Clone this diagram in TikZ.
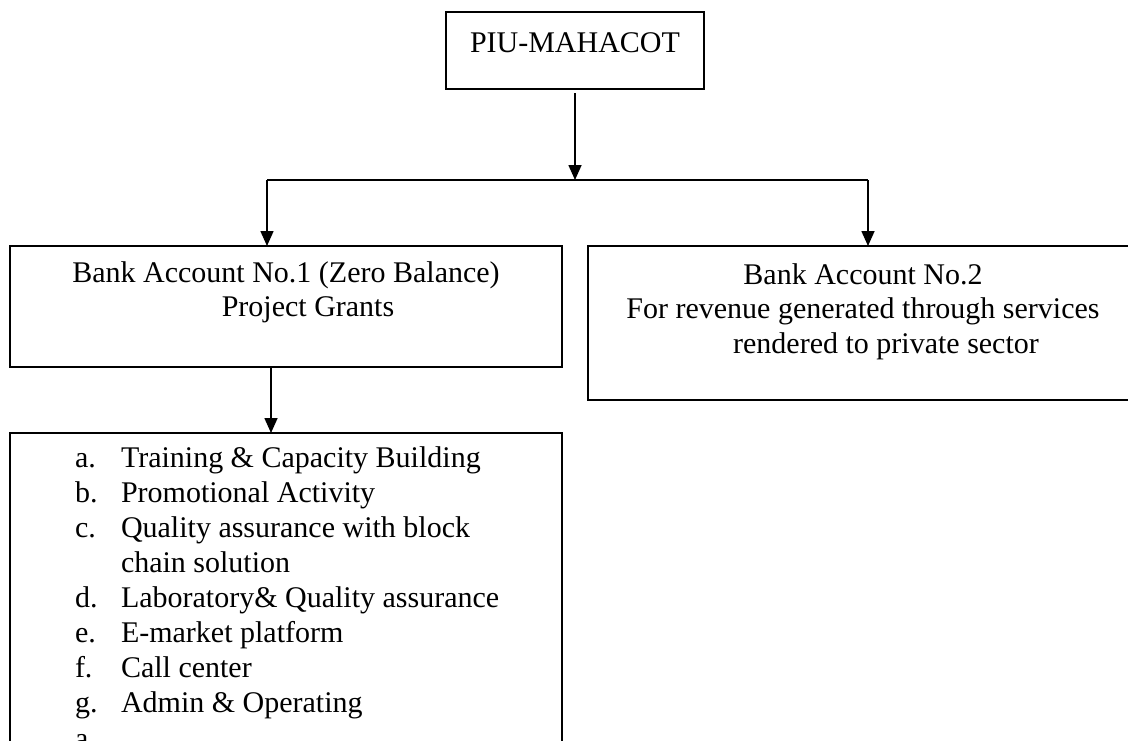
\documentclass[tikz,border=0pt]{standalone}
\usepackage{fontspec}
\setmainfont{Liberation Serif}
\usetikzlibrary{arrows.meta}
\begin{document}
\begin{tikzpicture}[x=1pt,y=-1pt,
  box/.style={draw, line width=1.6pt, inner sep=0pt, outer sep=0pt},
  txt/.style={font=\fontsize{30}{34.5}\selectfont, inner sep=0pt, outer sep=0pt, anchor=base},
  ltxt/.style={txt, anchor=base west},
  conn/.style={line width=1.6pt},
  arr/.style={conn, -{Triangle[width=13pt,length=15pt]}}]
\useasboundingbox (0,0) rectangle (1128,740);
\clip (0,0) rectangle (1128,740);
% boxes
\node[box, minimum width=258pt, minimum height=77pt] (top) at (575,50.5) {};
\node[box, minimum width=552pt, minimum height=121pt] (b1) at (286,306.5) {};
\node[box, minimum width=550pt, minimum height=154pt] (b2) at (863,323) {};
\node[box, minimum width=552pt, minimum height=367pt] (b3) at (286,616.5) {};
% texts
\node[txt] (t0) at (575,52) {PIU-MAHACOT};
\node[txt] (t1a) at (286,282) {Bank Account No.1 (Zero Balance)};
\node[txt] (t1b) at (308,316.5) {Project Grants};
\node[txt] (t2a) at (863,284) {Bank Account No.2};
\node[txt] (t2b) at (863,318.5) {For revenue generated through services};
\node[txt] (t2c) at (886,353) {rendered to private sector};
% list
\node[ltxt] (la) at (75,467) {a.};  \node[ltxt] (ia) at (121,467) {Training \& Capacity Building};
\node[ltxt] (lb) at (75,502) {b.};  \node[ltxt] (ib) at (121,502) {Promotional Activity};
\node[ltxt] (lc) at (75,537) {c.};  \node[ltxt] (ic) at (121,537) {Quality assurance with block};
                                    \node[ltxt] (ic2) at (121,572) {chain solution};
\node[ltxt] (ld) at (75,607) {d.};  \node[ltxt] (id) at (121,607) {Laboratory\& Quality assurance};
\node[ltxt] (le) at (75,642) {e.};  \node[ltxt] (ie) at (121,642) {E-market platform};
\node[ltxt] (lf) at (75,677) {f.};  \node[ltxt] (if) at (121,677) {Call center};
\node[ltxt] (lg) at (75,712) {g.};  \node[ltxt] (ig) at (121,712) {Admin \& Operating};
\node[ltxt] (lh) at (75,748) {a.};
% connectors
\coordinate (j) at (575,180);
\coordinate (jl) at (267,180);
\coordinate (jr) at (868,180);
\draw[arr, shorten <=4pt] (top.south) -- (j);
\draw[conn] (jl) -- (jr);
\draw[arr] (jl) -- (jl |- b1.north);
\draw[arr] (jr) -- (jr |- b2.north);
\draw[arr] ([xshift=-15pt]b1.south) -- ([xshift=-15pt]b1.south |- b3.north);
\end{tikzpicture}
\end{document}
